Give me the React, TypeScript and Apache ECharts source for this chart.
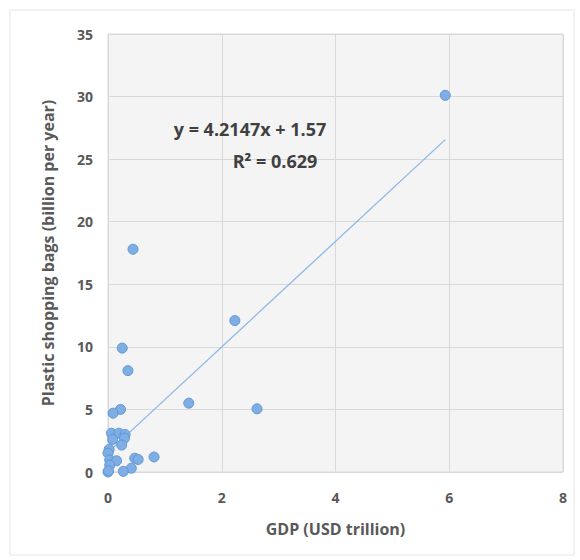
import React, { useEffect, useRef } from "react";
import * as echarts from "echarts";

const gdp = [5.93, 0.44, 2.23, 0.25, 0.35, 1.42, 2.62, 0.22, 0.09, 0.06, 0.19, 0.30, 0.29, 0.08, 0.24, 0.02, 0.0, 0.03, 0.15, 0.47, 0.53, 0.81, 0.41, 0.27, 0.0, 0.03, 0.01];
const bags = [30.1, 17.8, 12.1, 9.9, 8.1, 5.5, 5.05, 5.0, 4.7, 3.1, 3.1, 3.0, 2.7, 2.6, 2.15, 1.8, 1.5, 0.95, 0.9, 1.1, 1.0, 1.2, 0.3, 0.05, 0.0, 0.55, 0.1];
const trendX = [0, 5.93];
const trendY = [1.57, 26.56];
const xTicks = [0, 2, 4, 6, 8];
const yTicks = [0, 5, 10, 15, 20, 25, 30, 35];
const equation = "y = 4.2147x + 1.57";
const rSquared = "R² = 0.629";

export default function App() {
  const ref = useRef<HTMLDivElement>(null);
  useEffect(() => {
    document.body.style.margin = "0";
    const chart = echarts.init(ref.current!, null, { renderer: "svg" });
    const font = "'Open Sans', 'Liberation Sans', sans-serif";
    chart.setOption({
      animation: false,
      backgroundColor: "#ffffff",
      textStyle: { fontFamily: font },
      grid: {
        left: 108,
        top: 34,
        right: 17,
        bottom: 88,
        show: true,
        backgroundColor: "#f4f4f4",
        borderColor: "#d9d9d9",
        borderWidth: 1,
      },
      graphic: [
        {
          type: "rect",
          shape: { x: 10, y: 10, width: 564, height: 545 },
          style: { fill: "none", stroke: "#e6e6e6", lineWidth: 1 },
          z: -1,
        },
        {
          type: "text",
          x: 250,
          y: 129,
          style: {
            text: equation,
            fontFamily: font,
            fontWeight: "bold",
            fontSize: 18,
            fill: "#404040",
            textAlign: "center",
            textVerticalAlign: "middle",
          },
          z: 10,
        },
        {
          type: "text",
          x: 275,
          y: 161,
          style: {
            text: rSquared,
            fontFamily: font,
            fontWeight: "bold",
            fontSize: 18,
            fill: "#404040",
            textAlign: "center",
            textVerticalAlign: "middle",
          },
          z: 10,
        },
      ],
      xAxis: {
        type: "value",
        min: xTicks[0],
        max: xTicks[xTicks.length - 1],
        interval: 2,
        name: "GDP (USD trillion)",
        nameLocation: "middle",
        nameGap: 49,
        nameTextStyle: { color: "#595959", fontWeight: "bold", fontSize: 16, fontFamily: font },
        axisLine: { show: false },
        axisTick: { show: false },
        axisLabel: { color: "#595959", fontWeight: "bold", fontSize: 14, margin: 18, fontFamily: font },
        splitLine: { show: true, lineStyle: { color: "#d9d9d9", width: 1 } },
      },
      yAxis: {
        type: "value",
        min: yTicks[0],
        max: yTicks[yTicks.length - 1],
        interval: 5,
        name: "Plastic shopping bags (billion per year)",
        nameLocation: "middle",
        nameGap: 52,
        nameTextStyle: { color: "#595959", fontWeight: "bold", fontSize: 16, fontFamily: font },
        axisLine: { show: false },
        axisTick: { show: false },
        axisLabel: { color: "#595959", fontWeight: "bold", fontSize: 14, margin: 15, fontFamily: font },
        splitLine: { show: true, lineStyle: { color: "#d9d9d9", width: 1 } },
      },
      series: [
        {
          type: "line",
          data: trendX.map((x, i) => [x, trendY[i]]),
          showSymbol: false,
          symbol: "none",
          lineStyle: { color: "#8bb8e8", width: 1.3 },
          z: 2,
        },
        {
          type: "scatter",
          data: gdp.map((x, i) => [x, bags[i]]),
          symbolSize: 10,
          itemStyle: { color: "#7eaee3", borderColor: "#6097d6", borderWidth: 1, opacity: 1 },
          z: 3,
        },
      ],
    });
    return () => chart.dispose();
  }, []);
  return <div ref={ref} style={{ width: 580, height: 560 }} />;
}
